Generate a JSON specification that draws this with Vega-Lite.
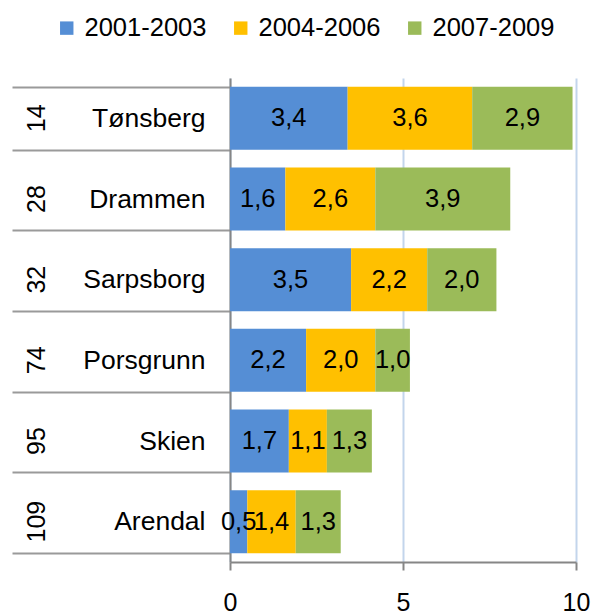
{
  "$schema": "https://vega.github.io/schema/vega-lite/v6.json",
  "autosize": {"type": "none"},
  "width": 346,
  "height": 484,
  "padding": {"left": 230, "top": 78, "right": 17, "bottom": 49},
  "config": {
    "locale": {"number": {"decimal": ",", "thousands": " ", "grouping": [3], "currency": ["", " kr"]}},
    "font": "Liberation Sans",
    "view": {"stroke": null},
    "axis": {"labelFont": "Liberation Sans", "labelColor": "#000000"}
  },
  "data": {
    "values": [
      {"city": "Tønsberg", "rank": "14", "period": "2001-2003", "value": 3.4},
      {"city": "Tønsberg", "rank": "14", "period": "2004-2006", "value": 3.6},
      {"city": "Tønsberg", "rank": "14", "period": "2007-2009", "value": 2.9},
      {"city": "Drammen", "rank": "28", "period": "2001-2003", "value": 1.6},
      {"city": "Drammen", "rank": "28", "period": "2004-2006", "value": 2.6},
      {"city": "Drammen", "rank": "28", "period": "2007-2009", "value": 3.9},
      {"city": "Sarpsborg", "rank": "32", "period": "2001-2003", "value": 3.5},
      {"city": "Sarpsborg", "rank": "32", "period": "2004-2006", "value": 2.2},
      {"city": "Sarpsborg", "rank": "32", "period": "2007-2009", "value": 2.0},
      {"city": "Porsgrunn", "rank": "74", "period": "2001-2003", "value": 2.2},
      {"city": "Porsgrunn", "rank": "74", "period": "2004-2006", "value": 2.0},
      {"city": "Porsgrunn", "rank": "74", "period": "2007-2009", "value": 1.0},
      {"city": "Skien", "rank": "95", "period": "2001-2003", "value": 1.7},
      {"city": "Skien", "rank": "95", "period": "2004-2006", "value": 1.1},
      {"city": "Skien", "rank": "95", "period": "2007-2009", "value": 1.3},
      {"city": "Arendal", "rank": "109", "period": "2001-2003", "value": 0.5},
      {"city": "Arendal", "rank": "109", "period": "2004-2006", "value": 1.4},
      {"city": "Arendal", "rank": "109", "period": "2007-2009", "value": 1.3}
    ]
  },
  "transform": [
    {"stack": "value", "groupby": ["city"], "sort": [{"field": "period", "order": "ascending"}], "as": ["v0", "v1"]},
    {"calculate": "(datum.v0 + datum.v1) / 2", "as": "mid"}
  ],
  "layer": [
    {
      "layer": [
        {
          "mark": {"type": "bar"},
          "encoding": {
            "y": {
              "field": "city", "type": "nominal",
              "sort": ["Tønsberg", "Drammen", "Sarpsborg", "Porsgrunn", "Skien", "Arendal"],
              "scale": {"paddingInner": 0.22, "paddingOuter": 0.11},
              "axis": {
                "title": null, "orient": "left",
                "labelFontSize": 26.5, "labelAlign": "right", "labelBaseline": "middle",
                "labelPadding": -193,
                "ticks": true, "tickBand": "extent", "tickSize": 218, "tickColor": "#9A9A9A", "tickWidth": 2,
                "domain": true, "domainColor": "#868686", "domainWidth": 2, "grid": false
              }
            },
            "x": {
              "field": "v0", "type": "quantitative",
              "scale": {"domain": [0, 10], "nice": false},
              "axis": {
                "title": null, "values": [0, 5, 10], "labelFontSize": 25, "labelPadding": 20,
                "grid": true, "gridColor": "#C3D5EC", "gridWidth": 2,
                "domainColor": "#868686", "domainWidth": 2,
                "tickColor": "#868686", "tickWidth": 2, "tickSize": 8, "labelFlush": false
              }
            },
            "x2": {"field": "v1"},
            "color": {
              "field": "period", "type": "nominal",
              "scale": {"domain": ["2001-2003", "2004-2006", "2007-2009"], "range": ["#558ED5", "#FFC000", "#9BBB59"]},
              "legend": {
                "title": null, "orient": "none", "direction": "horizontal",
                "legendX": -176, "legendY": -63,
                "symbolType": "square", "symbolSize": 180, "symbolStrokeWidth": 0,
                "labelFontSize": 25.5, "labelFont": "Liberation Sans", "labelColor": "#000000",
                "columnPadding": 21, "labelOffset": 5
              }
            }
          }
        },
        {
          "mark": {"type": "text", "fontSize": 25.5, "font": "Liberation Sans", "color": "#000000"},
          "encoding": {
            "y": {"field": "city", "type": "nominal", "sort": ["Tønsberg", "Drammen", "Sarpsborg", "Porsgrunn", "Skien", "Arendal"]},
            "x": {"field": "mid", "type": "quantitative"},
            "text": {"field": "value", "type": "quantitative", "format": ".1f"}
          }
        }
      ]
    },
    {
      "mark": {"type": "tick", "opacity": 0},
      "encoding": {
        "y": {
          "field": "rank", "type": "ordinal",
          "sort": ["14", "28", "32", "74", "95", "109"],
          "axis": {
            "title": null, "orient": "left", "labelAngle": -90,
            "labelAlign": "center", "labelBaseline": "middle",
            "labelFontSize": 25, "labelPadding": 194,
            "ticks": false, "tickSize": 0, "domain": false, "grid": false
          }
        },
        "x": {"datum": 0, "type": "quantitative"}
      }
    }
  ],
  "resolve": {"scale": {"y": "independent"}, "axis": {"y": "independent"}}
}
